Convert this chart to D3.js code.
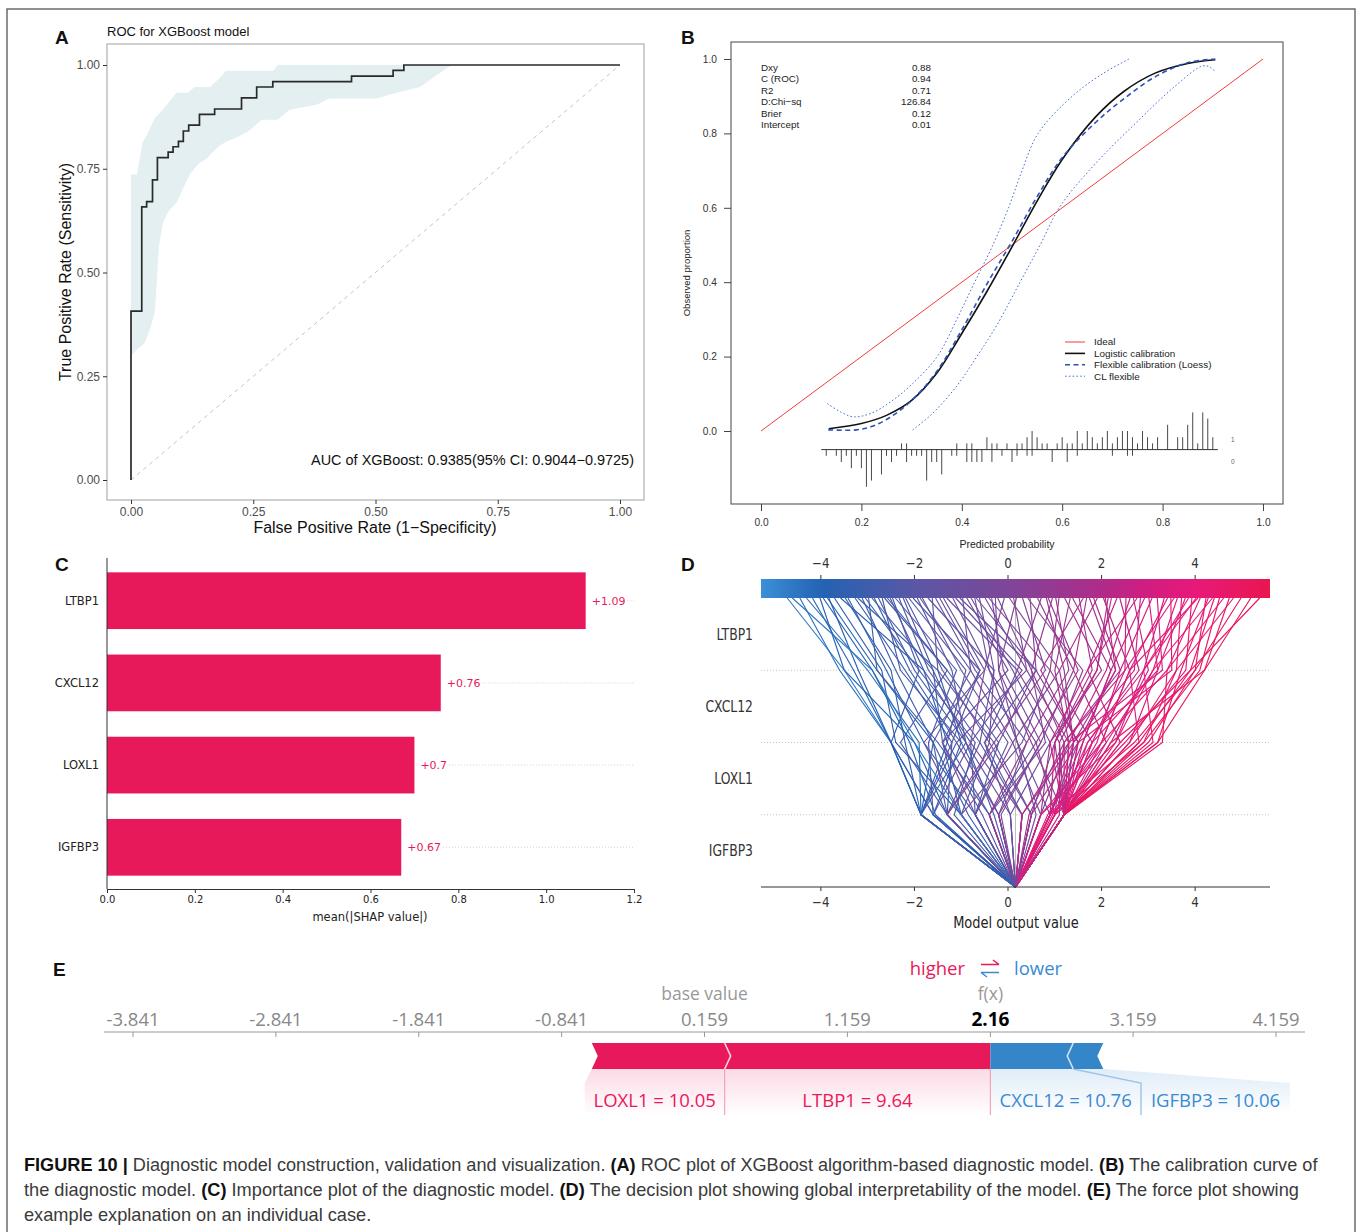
<!DOCTYPE html>
<html><head><meta charset="utf-8">
<script src="https://cdn.jsdelivr.net/npm/d3@7"></script>
<style>body{margin:0;background:#fff}svg{display:block}</style>
</head><body>
<svg id="fig" width="1358" height="1232"></svg>
<script>
// ================= DATA =================
// Panel A : ROC
const rocFpr = [0,0,0.022,0.032,0.044,0.054,0.076,0.086,0.097,0.107,0.118,0.14,0.171,0.226,0.257,0.29,0.451,0.536,0.558,1];
const rocTpr = [0,0.407,0.658,0.671,0.723,0.777,0.79,0.803,0.816,0.841,0.855,0.881,0.894,0.921,0.947,0.96,0.973,0.987,1,1];
const ciUpperFpr = [0,0.012,0.024,0.032,0.049,0.065,0.093,0.117,0.13,0.162,0.174,0.186,0.194,0.291,0.3,0.656];
const ciUpperTpr = [0.736,0.736,0.815,0.83,0.872,0.892,0.933,0.933,0.947,0.947,0.96,0.974,0.986,0.986,1,1];
const ciLowerFpr = [0,0.012,0.028,0.04,0.049,0.053,0.057,0.065,0.077,0.093,0.109,0.121,0.138,0.154,0.178,0.194,0.219,0.243,0.267,0.3,0.324,0.381,0.405,0.502,0.543,0.591,0.607,0.623,0.656];
const ciLowerTpr = [0.30,0.314,0.33,0.367,0.407,0.481,0.562,0.619,0.648,0.668,0.709,0.738,0.762,0.774,0.803,0.815,0.827,0.843,0.868,0.868,0.892,0.905,0.919,0.919,0.933,0.947,0.96,0.974,1];
const rocTicks = [0,0.25,0.5,0.75,1];
const aucText = "AUC of XGBoost: 0.9385(95% CI: 0.9044\u22120.9725)";

// Panel B : calibration
const calTicks = [0,0.2,0.4,0.6,0.8,1.0];
const logisticP = [0.135,0.2,0.25,0.3,0.35,0.4,0.45,0.5,0.55,0.6,0.667,0.722,0.785,0.85,0.905];
const logisticY = [0.006,0.02,0.042,0.082,0.155,0.262,0.375,0.495,0.618,0.73,0.845,0.912,0.962,0.988,0.998];
const loessP = [0.134,0.19,0.22,0.255,0.3,0.35,0.4,0.45,0.5,0.55,0.6,0.667,0.72,0.785,0.85,0.905];
const loessY = [0.003,0.003,0.012,0.035,0.082,0.16,0.272,0.395,0.51,0.63,0.735,0.83,0.89,0.952,0.99,1.0];
const clUpperP = [0.132,0.16,0.185,0.22,0.26,0.3,0.351,0.39,0.422,0.462,0.493,0.52,0.552,0.62,0.68,0.733];
const clUpperY = [0.074,0.05,0.038,0.048,0.08,0.125,0.2,0.3,0.39,0.5,0.6,0.7,0.8,0.9,0.96,1.0];
const clLowerP = [0.302,0.34,0.39,0.43,0.47,0.516,0.556,0.596,0.667,0.746,0.824,0.879,0.895,0.906];
const clLowerY = [0.003,0.045,0.121,0.2,0.285,0.4,0.5,0.604,0.72,0.827,0.926,0.981,0.978,0.964];
const statNames = ["Dxy","C (ROC)","R2","D:Chi\u2212sq","Brier","Intercept"];
const statValues = ["0.88","0.94","0.71","126.84","0.12","0.01"];
const legendNames = ["Ideal","Logistic calibration","Flexible calibration (Loess)","CL flexible"];
const rugEventProb = [0.28,0.29,0.39,0.41,0.42,0.45,0.46,0.47,0.49,0.51,0.52,0.53,0.54,0.55,0.56,0.57,0.59,0.60,0.61,0.62,0.63,0.64,0.65,0.66,0.67,0.68,0.69,0.70,0.71,0.72,0.73,0.74,0.75,0.76,0.77,0.78,0.79,0.81,0.83,0.84,0.85,0.86,0.87,0.88,0.89,0.90];
const rugEventCount = [1,1,1,1,1,2,1,1,1,1,1,2,3,2,1,1,1,2,1,1,3,1,3,2,1,2,3,1,2,3,3,2,1,3,2,1,2,4,2,2,4,6,1,6,5,2];
const rugNonEventProb = [0.13,0.15,0.16,0.17,0.18,0.19,0.20,0.21,0.22,0.24,0.25,0.26,0.27,0.29,0.30,0.31,0.32,0.33,0.34,0.35,0.36,0.38,0.39,0.41,0.42,0.43,0.44,0.46,0.48,0.50,0.51,0.53,0.54,0.58,0.61,0.63,0.70,0.73,0.74];
const rugNonEventCount = [1,1,2,1,3,1,3,6,5,4,1,2,1,2,1,1,1,5,2,2,4,1,1,2,2,2,2,2,1,2,1,1,1,2,2,1,1,1,1];

// Panel C : mean |SHAP|
const shapFeatures = ["LTBP1","CXCL12","LOXL1","IGFBP3"];
const shapMeanAbs = [1.09,0.76,0.70,0.67];
const shapLabels = ["+1.09","+0.76","+0.7","+0.67"];
const shapTicks = [0,0.2,0.4,0.6,0.8,1.0,1.2];

// Panel D : decision plot (cumulative model output after each feature)
const decFeatures = ["IGFBP3","LOXL1","CXCL12","LTBP1"]; // bottom -> top
const decBase = 0.159;
const decTicks = [-4,-2,0,2,4];
const dAfterIGFBP3 = [-1.86,-1.86,-1.60,-1.30,-1.86,-1.00,-1.86,-0.70,-1.30,-1.60,-0.40,-1.00,-1.86,-0.20,-1.30,-0.70,-1.60,0.30,-1.00,-0.40,-1.86,0.05,-0.70,-1.30,0.50,-0.20,-1.00,0.30,-0.40,-1.60,0.70,-0.70,0.05,-1.30,0.50,-0.20,-1.00,0.90,-0.40,0.30,
 -0.70,0.70,1.20,-1.30,0.50,0.90,-0.20,1.20,0.30,1.00,-0.40,1.20,0.70,1.20,0.90,1.20,0.50,1.20,1.00,1.20,0.70,1.20,0.90,1.20,1.00,1.20,0.30,1.20,0.90,1.20,1.20,1.00,1.20,0.70,1.20,1.20,0.90,1.20,1.20,1.00,1.20,1.20,0.90,1.20,1.20,1.00,1.20,1.20,1.20,1.20,1.20,1.20,
 -1.86,-1.86,-1.60,-0.70,-1.30,0.05,-1.86,-1.00,
 -1.55,-0.85,-0.15,0.45,-1.15,1.20,0.85,1.20,-0.55,1.10,0.60,1.20,-1.86,0.95,1.20,-0.30];
const dAfterLOXL1 = [-2.5,-2.5,-2.5,-2.0,-1.6,-2.4,-2.2,-1.8,-1.2,-2.5,-1.5,-1.4,-0.9,-1.0,-2.3,-0.8,-1.7,-0.6,-0.4,-1.3,-1.2,-0.9,0.0,-0.6,-0.3,0.4,-1.8,-0.5,0.6,-0.8,0.1,-1.4,0.9,-0.2,-0.4,-1.1,0.3,0.2,0.8,-0.8,
 0.1,1.3,0.5,-0.3,1.0,1.5,0.7,1.1,1.4,0.6,0.4,1.8,0.9,1.3,1.6,1.0,1.5,2.1,1.2,1.4,2.0,1.5,1.0,2.4,1.7,1.2,1.3,2.2,1.4,1.6,2.6,1.9,1.3,2.3,2.8,1.5,2.1,2.9,1.8,2.5,3.1,2.0,2.7,3.2,2.4,2.9,3.3,2.2,2.6,3.0,3.2,2.8,
 -2.5,-1.9,-1.0,-0.2,-1.6,-0.5,-1.3,-2.0,
 -2.1,-1.6,0.7,1.2,-0.7,0.9,1.8,2.3,-1.4,1.1,0.2,1.7,-1.1,2.0,1.4,-0.9];
const dAfterCXCL12 = [-3.5,-3.6,-3.3,-3.5,-2.8,-2.7,-2.5,-2.6,-2.2,-1.9,-2.8,-1.6,-2.0,-2.3,-1.3,-1.8,-1.1,-1.7,-1.4,-0.9,-0.6,-1.2,-1.0,-0.3,-1.5,-0.7,-0.5,0.2,-0.4,0.3,-0.8,0.0,0.1,0.6,-0.3,0.4,0.9,-0.2,0.5,-0.5,
 1.1,0.4,-0.2,0.8,1.6,0.6,1.4,0.2,1.2,1.5,1.3,0.9,2.0,1.0,2.2,1.8,0.7,1.4,2.4,1.1,2.6,2.3,1.9,1.7,2.8,2.5,2.1,3.0,2.7,2.2,3.2,2.4,3.3,2.9,2.6,3.5,3.1,3.6,3.2,3.8,2.9,3.4,4.0,3.7,3.9,4.1,3.4,4.2,3.6,4.0,4.2,3.9,
 -3.2,-3.0,-1.5,-1.3,-0.8,0.6,-1.8,-2.9,
 -2.9,-2.4,-0.1,0.5,-1.9,1.7,2.5,3.1,-0.6,1.9,-0.4,2.9,-2.1,2.6,2.3,-1.6];
const dOutput = [-4.72,-4.45,-4.18,-4.02,-3.86,-3.71,-3.48,-3.42,-3.27,-3.05,-2.98,-2.91,-2.77,-2.69,-2.58,-2.52,-2.41,-2.33,-2.19,-2.12,-2.03,-1.94,-1.83,-1.71,-1.62,-1.55,-1.38,-1.31,-1.18,-1.12,-0.97,-0.88,-0.79,-0.68,-0.61,-0.49,-0.41,-0.27,-0.22,-0.08,
 0.03,0.12,0.18,0.31,0.42,0.47,0.63,0.71,0.82,0.86,1.02,1.09,1.21,1.33,1.38,1.52,1.61,1.68,1.83,1.91,2.04,2.08,2.21,2.33,2.39,2.52,2.61,2.68,2.83,2.92,3.01,3.08,3.19,3.34,3.41,3.48,3.62,3.71,3.79,3.93,4.02,4.11,4.23,4.28,4.41,4.52,4.61,4.73,4.82,4.98,5.19,5.38,
 -3.83,-4.31,-3.21,-2.64,-1.88,-1.03,-3.58,-4.61,
 -3.95,-3.12,-0.35,0.95,-2.47,2.76,3.55,4.37,-1.46,2.14,-0.71,3.86,-2.86,4.06,1.74,-2.24];

// Panel E : force plot
const forceBase = 0.159;
const forceFx = 2.16;
const forceTicks = [-3.841,-2.841,-1.841,-0.841,0.159,1.159,2.16,3.159,4.159];
const forceFeatures = ["LTBP1","LOXL1","CXCL12","IGFBP3"];
const forceFeatureValues = ["9.64","10.05","10.76","10.06"];
const forceShap = [1.86,0.93,-0.58,-0.21];

// Caption
const captionLines = [
  [["FIGURE 10 |",true],[" Diagnostic model construction, validation and visualization. ",false],["(A)",true],[" ROC plot of XGBoost algorithm-based diagnostic model. ",false],["(B)",true],[" The calibration curve of",false]],
  [["the diagnostic model. ",false],["(C)",true],[" Importance plot of the diagnostic model. ",false],["(D)",true],[" The decision plot showing global interpretability of the model. ",false],["(E)",true],[" The force plot showing",false]],
  [["example explanation on an individual case.",false]]
];

// ================= DRAW =================
const svg = d3.select('#fig');
const SANS = '"Liberation Sans", Arial, Helvetica, sans-serif';
const DJV = '"DejaVu Sans", sans-serif';
const OPEN = '"Open Sans", "Noto Sans", sans-serif';
const RED = '#e8195a', BLUE = '#3a8ad2';
const defs = svg.append('defs');

function condense(sel, s){
  sel.each(function(){
    const t = d3.select(this); const x = +(t.attr('x')||0);
    t.attr('transform', `translate(${x*(1-s)},0) scale(${s},1)`);
  });
}

// outer frame
svg.append('rect').attr('x',7).attr('y',9).attr('width',1348).attr('height',1250)
  .attr('fill','none').attr('stroke','#555').attr('stroke-width',1.3);

// panel letters
[['A',55,44],['B',681,44],['C',55,571],['D',681,571],['E',53,976]].forEach(([t,x,y])=>{
  svg.append('text').attr('x',x).attr('y',y).text(t)
    .attr('font-family',SANS).attr('font-weight','bold').attr('font-size',19).attr('fill','#111');
});

// ---------- Panel A ----------
{
  const g = svg.append('g');
  const x = d3.scaleLinear().domain([0,1]).range([131,620]);
  const y = d3.scaleLinear().domain([0,1]).range([480,65]);
  g.append('rect').attr('x',107).attr('y',44).attr('width',537).attr('height',456)
    .attr('fill','#fff').attr('stroke','#b0b0b0').attr('stroke-width',1.2);
  const upper = ciUpperFpr.map((f,i)=>[x(f),y(ciUpperTpr[i])]);
  const lower = ciLowerFpr.map((f,i)=>[x(f),y(ciLowerTpr[i])]).reverse();
  g.append('path').attr('d', d3.line()(upper.concat(lower))+'Z').attr('fill','#e3eff1');
  g.append('line').attr('x1',x(0)).attr('y1',y(0)).attr('x2',x(1)).attr('y2',y(1))
    .attr('stroke','#c4c4c4').attr('stroke-dasharray','4,4').attr('stroke-width',1);
  g.append('path').datum(rocFpr.map((f,i)=>[f,rocTpr[i]]))
    .attr('d', d3.line().x(d=>x(d[0])).y(d=>y(d[1])).curve(d3.curveStepAfter))
    .attr('fill','none').attr('stroke','#2a2a2a').attr('stroke-width',1.7);
  const ax = g.append('g').attr('transform','translate(107,0)')
    .call(d3.axisLeft(y).tickValues(rocTicks).tickFormat(d3.format('.2f')).tickSize(4).tickPadding(3));
  const bx = g.append('g').attr('transform','translate(0,500)')
    .call(d3.axisBottom(x).tickValues(rocTicks).tickFormat(d3.format('.2f')).tickSize(4).tickPadding(3));
  [ax,bx].forEach(a=>{a.select('.domain').remove(); a.selectAll('line').attr('stroke','#333');
    a.selectAll('text').attr('font-family',SANS).attr('font-size',12).attr('fill','#4d4d4d');});
  g.append('text').attr('x',107).attr('y',36).text('ROC for XGBoost model')
    .attr('font-family',SANS).attr('font-size',13).attr('fill','#111');
  g.append('text').attr('x',375).attr('y',533).attr('text-anchor','middle')
    .text('False Positive Rate (1\u2212Specificity)').attr('font-family',SANS).attr('font-size',16).attr('fill','#111');
  g.append('text').attr('transform','translate(71,272) rotate(-90)').attr('text-anchor','middle')
    .text('True Positive Rate (Sensitivity)').attr('font-family',SANS).attr('font-size',16).attr('fill','#111');
  g.append('text').attr('x',634).attr('y',465).attr('text-anchor','end').text(aucText)
    .attr('font-family',SANS).attr('font-size',14).attr('fill','#111')
    .attr('textLength',323).attr('lengthAdjust','spacingAndGlyphs');
}

// ---------- Panel B ----------
{
  const g = svg.append('g');
  const x = d3.scaleLinear().domain([0,1]).range([761,1263]);
  const y = d3.scaleLinear().domain([0,1]).range([431,59]);
  g.append('rect').attr('x',731).attr('y',42).attr('width',552).attr('height',462)
    .attr('fill','none').attr('stroke','#555').attr('stroke-width',1.1);
  const ax = g.append('g').attr('transform','translate(731,0)')
    .call(d3.axisLeft(y).tickValues(calTicks).tickFormat(d3.format('.1f')).tickSize(7).tickPadding(7));
  const bx = g.append('g').attr('transform','translate(0,504)')
    .call(d3.axisBottom(x).tickValues(calTicks).tickFormat(d3.format('.1f')).tickSize(7).tickPadding(8));
  [ax,bx].forEach(a=>{a.select('.domain').remove(); a.selectAll('line').attr('stroke','#444');
    a.selectAll('text').attr('font-family',SANS).attr('font-size',10.2).attr('fill','#333');});
  g.append('text').attr('x',1007).attr('y',548).attr('text-anchor','middle').text('Predicted probability')
    .attr('font-family',SANS).attr('font-size',10.5).attr('fill','#222');
  g.append('text').attr('transform','translate(690,273) rotate(-90)').attr('text-anchor','middle')
    .text('Observed proportion').attr('font-family',SANS).attr('font-size',9.5).attr('fill','#222');
  // ideal
  g.append('line').attr('x1',x(0)).attr('y1',y(0)).attr('x2',x(1)).attr('y2',y(1))
    .attr('stroke','#f23c3c').attr('stroke-width',1);
  const ln = d3.line().x(d=>x(d[0])).y(d=>y(d[1])).curve(d3.curveCatmullRom.alpha(0.5));
  g.append('path').attr('d', ln(clUpperP.map((p,i)=>[p,clUpperY[i]])))
    .attr('fill','none').attr('stroke','#4a6fd6').attr('stroke-width',1).attr('stroke-dasharray','1.6,2.2');
  g.append('path').attr('d', ln(clLowerP.map((p,i)=>[p,clLowerY[i]])))
    .attr('fill','none').attr('stroke','#4a6fd6').attr('stroke-width',1).attr('stroke-dasharray','1.6,2.2');
  g.append('path').attr('d', ln(logisticP.map((p,i)=>[p,logisticY[i]])))
    .attr('fill','none').attr('stroke','#111').attr('stroke-width',1.6);
  g.append('path').attr('d', ln(loessP.map((p,i)=>[p,loessY[i]])))
    .attr('fill','none').attr('stroke','#2b50b8').attr('stroke-width',1.6).attr('stroke-dasharray','5,3.5');
  // stats
  statNames.forEach((s,i)=>{
    const yy = 71 + i*11.4;
    g.append('text').attr('x',761).attr('y',yy).text(s).attr('font-family',SANS).attr('font-size',9.8).attr('fill','#222');
    g.append('text').attr('x',931).attr('y',yy).attr('text-anchor','end').text(statValues[i])
      .attr('font-family',SANS).attr('font-size',9.8).attr('fill','#222');
  });
  // legend
  const lStyles = [{c:'#f23c3c',w:1,d:null},{c:'#111',w:1.6,d:null},{c:'#2b50b8',w:1.6,d:'5,3.5'},{c:'#4a6fd6',w:1,d:'1.6,2.2'}];
  legendNames.forEach((n,i)=>{
    const yy = 342 + i*11.4;
    g.append('line').attr('x1',1065).attr('x2',1085).attr('y1',yy).attr('y2',yy)
      .attr('stroke',lStyles[i].c).attr('stroke-width',lStyles[i].w).attr('stroke-dasharray',lStyles[i].d);
    g.append('text').attr('x',1094).attr('y',yy+3.4).text(n).attr('font-family',SANS).attr('font-size',9.9).attr('fill','#222');
  });
  // rug / spike histogram
  const base = y(-0.05), unit = 6.2;
  g.append('line').attr('x1',x(0.12)).attr('x2',x(0.91)).attr('y1',base).attr('y2',base).attr('stroke','#333').attr('stroke-width',1);
  rugEventProb.forEach((p,i)=>{
    g.append('line').attr('x1',x(p)).attr('x2',x(p)).attr('y1',base).attr('y2',base-unit*rugEventCount[i])
      .attr('stroke','#333').attr('stroke-width',0.9);
  });
  rugNonEventProb.forEach((p,i)=>{
    g.append('line').attr('x1',x(p)).attr('x2',x(p)).attr('y1',base).attr('y2',base+unit*rugNonEventCount[i])
      .attr('stroke','#333').attr('stroke-width',0.9);
  });
  g.append('text').attr('x',1231).attr('y',442).text('1').attr('font-family',SANS).attr('font-size',6.5).attr('fill','#666');
  g.append('text').attr('x',1231).attr('y',464).text('0').attr('font-family',SANS).attr('font-size',6.5).attr('fill','#666');
}

// ---------- Panel C ----------
{
  const g = svg.append('g');
  const x = d3.scaleLinear().domain([0,1.2]).range([107,634]);
  const y = d3.scaleBand().domain(shapFeatures).range([560,888]).paddingInner(0.31).paddingOuter(0.15);
  shapFeatures.forEach((f,i)=>{
    g.append('rect').attr('x',x(0)).attr('y',y(f)).attr('width',x(shapMeanAbs[i])-x(0)).attr('height',y.bandwidth())
      .attr('fill',RED);
    const cy = y(f)+y.bandwidth()/2;
    const t = g.append('text').attr('x',x(shapMeanAbs[i])+6).attr('y',cy+4).text(shapLabels[i])
      .attr('font-family',DJV).attr('font-size',11).attr('fill',RED);
    const w = t.node().getComputedTextLength();
    g.append('line').attr('x1',x(shapMeanAbs[i])+6+w+2).attr('x2',634).attr('y1',cy).attr('y2',cy)
      .attr('stroke','#c8c8c8').attr('stroke-dasharray','1,2').attr('stroke-width',0.8);
    g.append('text').attr('x',99).attr('y',cy+4).attr('text-anchor','end').text(f)
      .attr('font-family',DJV).attr('font-size',11.5).attr('fill','#222');
  });
  g.append('line').attr('x1',107).attr('x2',107).attr('y1',558).attr('y2',889).attr('stroke','#333').attr('stroke-width',1);
  const bx = g.append('g').attr('transform','translate(0,889)')
    .call(d3.axisBottom(x).tickValues(shapTicks).tickFormat(d3.format('.1f')).tickSize(4).tickPadding(3));
  bx.select('.domain').attr('stroke','#333');
  bx.selectAll('line').attr('stroke','#333');
  bx.selectAll('text').attr('font-family',DJV).attr('font-size',10).attr('fill','#222');
  g.append('text').attr('x',370).attr('y',921).attr('text-anchor','middle').text('mean(|SHAP value|)')
    .attr('font-family',DJV).attr('font-size',11.5).attr('fill','#222');
}

// ---------- Panel D ----------
{
  const g = svg.append('g');
  const x = d3.scaleLinear().domain([-5.28,5.6]).range([761,1270]);
  const y = d3.scaleLinear().domain([0,4]).range([887,598]);
  const col = d3.scaleLinear().domain([-5.28,-4,-2,0,2,3,4,5.6])
    .range(['#3d8fd8','#2263b3','#5a57a6','#7e4699','#b02b89','#d21c80','#e8197a','#e8174f']);
  const grad = defs.append('linearGradient').attr('id','cbar').attr('x1','0%').attr('x2','100%');
  d3.range(0,41).forEach(i=>{
    const v = -5.28 + (10.88*i/40);
    grad.append('stop').attr('offset',(i/40*100)+'%').attr('stop-color',col(v));
  });
  g.append('rect').attr('x',761).attr('y',579).attr('width',509).attr('height',19).attr('fill','url(#cbar)');
  [1,2,3].forEach(k=>g.append('line').attr('x1',761).attr('x2',1270).attr('y1',y(k)).attr('y2',y(k))
    .attr('stroke','#bdbdbd').attr('stroke-dasharray','1,2').attr('stroke-width',0.9));
  g.append('line').attr('x1',x(decBase)).attr('x2',x(decBase)).attr('y1',598).attr('y2',887)
    .attr('stroke','#aaa').attr('stroke-width',0.8);
  const ln = d3.line().x(d=>x(d[0])).y(d=>y(d[1]));
  dOutput.forEach((o,i)=>{
    const pts = [[decBase,0],[dAfterIGFBP3[i],1],[dAfterLOXL1[i],2],[dAfterCXCL12[i],3],[o,4]];
    g.append('path').attr('d',ln(pts)).attr('fill','none').attr('stroke',col(o)).attr('stroke-width',1.15);
  });
  g.append('line').attr('x1',761).attr('x2',1270).attr('y1',887).attr('y2',887).attr('stroke','#333').attr('stroke-width',1.2);
  decTicks.forEach(v=>{
    g.append('line').attr('x1',x(v)).attr('x2',x(v)).attr('y1',887).attr('y2',891).attr('stroke','#333');
    g.append('line').attr('x1',x(v)).attr('x2',x(v)).attr('y1',579).attr('y2',575).attr('stroke','#333');
    const lab = d3.format('d')(v);
    const t1 = g.append('text').attr('x',x(v)).attr('y',907).attr('text-anchor','middle').text(lab)
      .attr('font-family',DJV).attr('font-size',14).attr('fill','#333');
    const t2 = g.append('text').attr('x',x(v)).attr('y',568).attr('text-anchor','middle').text(lab)
      .attr('font-family',DJV).attr('font-size',14).attr('fill','#333');
    condense(t1,0.85); condense(t2,0.85);
  });
  decFeatures.forEach((f,i)=>{
    const t = g.append('text').attr('x',753).attr('y',y(i+0.5)+5.5).attr('text-anchor','end').text(f)
      .attr('font-family',DJV).attr('font-size',15.5).attr('fill','#333');
    condense(t,0.8);
  });
  const tt = g.append('text').attr('x',1016).attr('y',928).attr('text-anchor','middle').text('Model output value')
    .attr('font-family',DJV).attr('font-size',15.5).attr('fill','#222');
  condense(tt,0.84);
}

// ---------- Panel E ----------
{
  const g = svg.append('g');
  const x = d3.scaleLinear().domain([-3.841,4.159]).range([133,1276]);
  const top = 1043, bot = 1069, mid = 1056, n = 6, zoneBot = 1115, zoneMid = 1083;
  const rf = defs.append('linearGradient').attr('id','redFade').attr('x1',0).attr('x2',0).attr('y1',0).attr('y2',1);
  rf.append('stop').attr('offset','0%').attr('stop-color',RED).attr('stop-opacity',0.16);
  rf.append('stop').attr('offset','100%').attr('stop-color',RED).attr('stop-opacity',0);
  const bf = defs.append('linearGradient').attr('id','blueFade').attr('x1',0).attr('x2',0).attr('y1',0).attr('y2',1);
  bf.append('stop').attr('offset','0%').attr('stop-color',BLUE).attr('stop-opacity',0.16);
  bf.append('stop').attr('offset','100%').attr('stop-color',BLUE).attr('stop-opacity',0);

  g.append('line').attr('x1',104).attr('x2',1305).attr('y1',1032).attr('y2',1032).attr('stroke','#bbb').attr('stroke-width',1.5);
  forceTicks.forEach(v=>{
    g.append('line').attr('x1',x(v)).attr('x2',x(v)).attr('y1',1032).attr('y2',1037).attr('stroke','#999');
    const isFx = v===forceFx;
    g.append('text').attr('x',x(v)).attr('y',1026).attr('text-anchor','middle').text(isFx?'2.16':d3.format('.3f')(v).replace('\u2212','-'))
      .attr('font-family',OPEN).attr('font-size',isFx?19:18.5).attr('font-weight',isFx?'bold':'normal')
      .attr('fill',isFx?'#000':'#888');
  });
  g.append('text').attr('x',x(forceBase)).attr('y',1000).attr('text-anchor','middle').text('base value')
    .attr('font-family',OPEN).attr('font-size',17.5).attr('fill','#999');
  g.append('text').attr('x',x(forceFx)).attr('y',1000).attr('text-anchor','middle').text('f(x)')
    .attr('font-family',OPEN).attr('font-size',17.5).attr('fill','#999');
  g.append('text').attr('x',965).attr('y',975).attr('text-anchor','end').text('higher')
    .attr('font-family',OPEN).attr('font-size',18.5).attr('fill',RED);
  g.append('text').attr('x',1014).attr('y',975).text('lower')
    .attr('font-family',OPEN).attr('font-size',18.5).attr('fill',BLUE);
  g.append('path').attr('d','M981,964.5 L999,964.5 M993,960 L999,964.5').attr('stroke',RED).attr('stroke-width',1.5).attr('fill','none');
  g.append('path').attr('d','M999,972.5 L981,972.5 M987,977 L981,972.5').attr('stroke',BLUE).attr('stroke-width',1.5).attr('fill','none');

  const reds = [], blues = [];
  let cur = forceFx;
  forceShap.forEach((s,i)=>{ if(s>0){ reds.push({i, a:cur-s, b:cur}); cur -= s; } });
  cur = forceFx;
  forceShap.forEach((s,i)=>{ if(s<0){ blues.push({i, a:cur, b:cur-s}); cur -= s; } });
  const poly = pts => 'M'+pts.map(p=>p.join(',')).join('L')+'Z';
  const redLeft = x(reds[reds.length-1].a), redSep = x(reds[0].a), fxX = x(forceFx);
  const blueSep = x(blues[0].b), blueEnd = x(blues[blues.length-1].b);
  const zoneEdges = [redLeft-7, redSep, fxX, 1141, 1290];
  g.append('path').attr('d',poly([[redLeft,bot],[redSep,bot],[redSep,zoneBot],[zoneEdges[0],zoneBot],[zoneEdges[0],zoneMid]])).attr('fill','url(#redFade)');
  g.append('path').attr('d',poly([[redSep,bot],[fxX,bot],[fxX,zoneBot],[redSep,zoneBot]])).attr('fill','url(#redFade)');
  g.append('path').attr('d',poly([[fxX,bot],[blueSep,bot],[zoneEdges[3],zoneMid],[zoneEdges[3],zoneBot],[fxX,zoneBot]])).attr('fill','url(#blueFade)');
  g.append('path').attr('d',poly([[blueSep,bot],[blueEnd,bot],[zoneEdges[4],zoneMid],[zoneEdges[4],zoneBot],[zoneEdges[3],zoneBot],[zoneEdges[3],zoneMid]])).attr('fill','url(#blueFade)');
  g.append('line').attr('x1',redSep).attr('x2',redSep).attr('y1',bot).attr('y2',zoneBot).attr('stroke','#f4a3bb').attr('stroke-width',1.2);
  g.append('line').attr('x1',fxX).attr('x2',fxX).attr('y1',bot).attr('y2',zoneBot).attr('stroke','#f4a3bb').attr('stroke-width',1.2);
  g.append('path').attr('d',`M${blueSep},${bot} L${zoneEdges[3]},${zoneMid} L${zoneEdges[3]},${zoneBot}`)
    .attr('fill','none').attr('stroke','#9cc4e8').attr('stroke-width',1.4);

  reds.forEach((s,k)=>{
    const xa = x(s.a), xb = x(s.b);
    const pts = [[xa,top],[xb,top]];
    if(k!==0) pts.push([xb+n,mid]);
    pts.push([xb,bot],[xa,bot],[xa+n,mid]);
    g.append('path').attr('d',poly(pts)).attr('fill',RED);
  });
  blues.forEach((s,k)=>{
    const xa = x(s.a), xb = x(s.b);
    const pts = [[xa,top],[xb,top],[xb-n,mid],[xb,bot],[xa,bot]];
    if(k!==0) pts.push([xa-n,mid]);
    g.append('path').attr('d',poly(pts)).attr('fill','#3586c8');
  });
  g.append('path').attr('d',`M${redSep},${top} L${redSep+n},${mid} L${redSep},${bot}`).attr('fill','none').attr('stroke','#fbd3de').attr('stroke-width',1.6);
  g.append('path').attr('d',`M${blueSep},${top} L${blueSep-n},${mid} L${blueSep},${bot}`).attr('fill','none').attr('stroke','#cfe3f5').attr('stroke-width',1.6);

  const labs = [
    {t:forceFeatures[1]+' = '+forceFeatureValues[1], c:(zoneEdges[0]+zoneEdges[1])/2, col:RED},
    {t:forceFeatures[0]+' = '+forceFeatureValues[0], c:(zoneEdges[1]+zoneEdges[2])/2, col:RED},
    {t:forceFeatures[2]+' = '+forceFeatureValues[2], c:(zoneEdges[2]+zoneEdges[3])/2, col:BLUE},
    {t:forceFeatures[3]+' = '+forceFeatureValues[3], c:(zoneEdges[3]+zoneEdges[4])/2, col:BLUE}
  ];
  labs.forEach(l=>g.append('text').attr('x',l.c).attr('y',1107).attr('text-anchor','middle').text(l.t)
    .attr('font-family',OPEN).attr('font-size',18.5).attr('fill',l.col));
}

// ---------- Caption ----------
{
  const widths = [1294, 1275, null];
  let lastS = 1;
  captionLines.forEach((parts,i)=>{
    const t = svg.append('text').attr('x',24).attr('y',1171+i*25)
      .attr('font-family',SANS).attr('font-size',17.5).attr('fill','#3a3a3a');
    parts.forEach(([s,b])=>t.append('tspan').text(s).attr('font-weight',b?'bold':'normal').attr('fill',b?'#111':'#3a3a3a'));
    const w = t.node().getComputedTextLength();
    const s = widths[i] ? widths[i]/w : lastS;
    lastS = s;
    t.attr('transform',`translate(${24*(1-s)},0) scale(${s},1)`);
  });
}
</script>
</body></html>
